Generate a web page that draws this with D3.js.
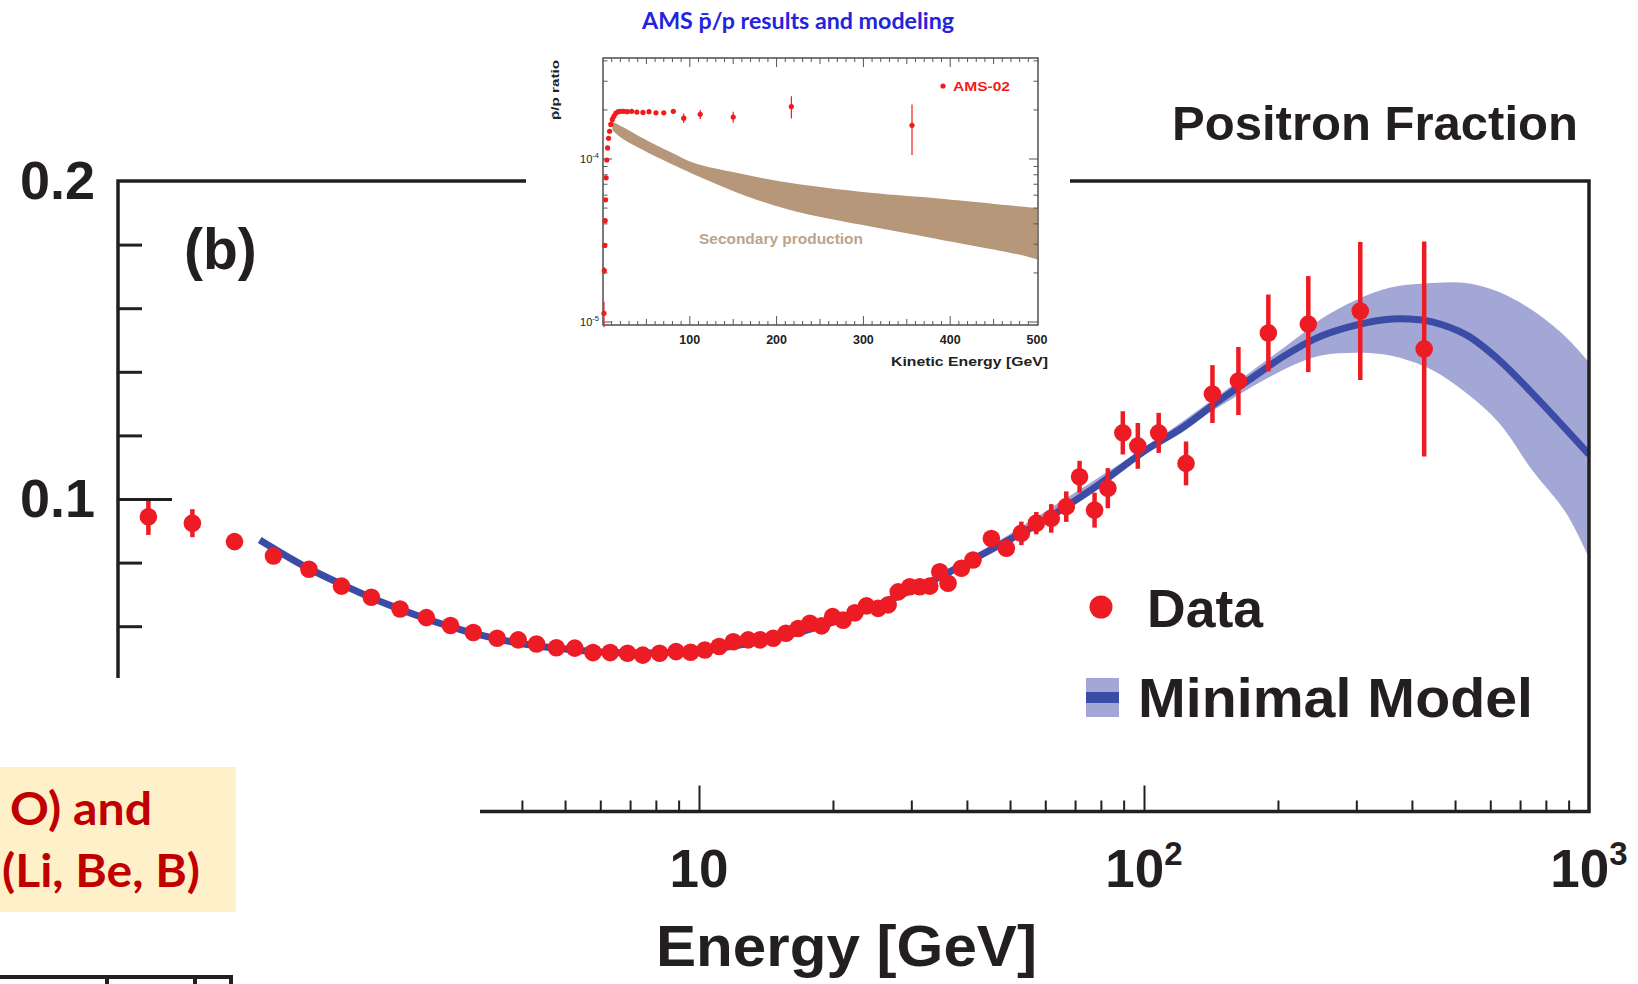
<!DOCTYPE html>
<html>
<head>
<meta charset="utf-8">
<script src="https://cdn.jsdelivr.net/npm/d3@7/dist/d3.min.js"></script>
<style>
	html, body { margin: 0; padding: 0; background: #fff; }
	svg { display: block; }
	.helv { font-family: "Liberation Sans", Arial, Helvetica, sans-serif; }
	.cal { font-family: Lato, "Open Sans", sans-serif; }
</style>
</head>
<body>
<svg id="viz" width="1638" height="984"></svg>
<script>

var positronEnergy = [
	0.579, 0.727, 0.904, 1.106, 1.329, 1.573, 1.835, 2.129, 2.440, 2.764,
	3.111, 3.518, 3.923, 4.314, 4.780, 5.258, 5.778, 6.317, 6.909, 7.474,
	8.155, 8.880, 9.575, 10.31, 11.10, 11.94, 12.90, 13.71, 14.68, 15.68,
	16.71, 17.75, 18.86, 19.96, 21.08, 22.40, 23.79, 25.26, 26.61, 28.03,
	29.76, 31.34, 33.00, 34.75, 36.28, 38.88, 41.28, 45.40, 49.06, 53.02,
	57.28, 61.89, 66.88, 71.65, 77.43, 82.94, 89.62, 96.85, 107.9, 124.3,
	142.5, 163.0, 190.3, 234.0, 306.2, 426.2
];
var positronFraction = [
	0.0944, 0.0924, 0.0866, 0.0821, 0.0779, 0.0726, 0.0691, 0.0654, 0.0627, 0.0602,
	0.0580, 0.0562, 0.0557, 0.0544, 0.0532, 0.0531, 0.0517, 0.0517, 0.0515, 0.0509,
	0.0515, 0.0520, 0.0518, 0.0525, 0.0536, 0.0551, 0.0557, 0.0557, 0.0562, 0.0578,
	0.0593, 0.0609, 0.0601, 0.0630, 0.0619, 0.0642, 0.0664, 0.0656, 0.0667, 0.0708,
	0.0724, 0.0724, 0.0726, 0.0771, 0.0735, 0.0782, 0.0808, 0.0876, 0.0845, 0.0892,
	0.0924, 0.0939, 0.0976, 0.1070, 0.0965, 0.1034, 0.1208, 0.1167, 0.1208, 0.1112,
	0.1330, 0.1371, 0.1522, 0.1550, 0.1591, 0.1472
];
var positronError = [
	0.0057, 0.0044, 0.001, 0.001, 0.001, 0.001, 0.001, 0.001, 0.001, 0.001,
	0.001, 0.001, 0.001, 0.001, 0.001, 0.001, 0.001, 0.001, 0.001, 0.001,
	0.001, 0.001, 0.001, 0.001, 0.001, 0.001, 0.001, 0.001, 0.001, 0.001,
	0.001, 0.001, 0.001, 0.001, 0.001, 0.001, 0.001, 0.001, 0.001, 0.001,
	0.001, 0.001, 0.001, 0.001, 0.001, 0.0012, 0.0015, 0.002, 0.0022, 0.0037,
	0.0035, 0.0045, 0.0048, 0.0050, 0.0055, 0.0063, 0.0068, 0.0072, 0.0063, 0.0069,
	0.0091, 0.0107, 0.0121, 0.0151, 0.0217, 0.0338
];

// Minimal model: central line and its band.
var modelEnergy = [
	1.03, 1.3, 1.6, 2, 2.5, 3, 3.5, 4, 5, 6, 7, 8, 9, 10, 12, 14, 17, 20, 25, 30,
	35, 40, 50, 60, 70, 80, 100, 122, 145, 172, 205, 244, 289, 343, 395, 444,
	530, 628, 745, 965, 1000
];
var modelFraction = [
	0.0871, 0.0788, 0.0727, 0.0668, 0.0618, 0.0584, 0.0561, 0.0545, 0.0528, 0.0519,
	0.0516, 0.0516, 0.0519, 0.0524, 0.0538, 0.0555, 0.0583, 0.0613, 0.0664, 0.0713,
	0.0757, 0.0800, 0.0873, 0.0935, 0.0995, 0.1050, 0.1150, 0.1224, 0.1302, 0.1374,
	0.1447, 0.1506, 0.1541, 0.1563, 0.1566, 0.1557, 0.1516, 0.1437, 0.1333, 0.1164,
	0.1140
];
// Below ~40 GeV the band is hidden under the line.
var bandEnergy = [40, 100, 150, 190, 225, 252, 300, 356, 444, 530, 628, 745, 888, 1000];
var bandHigh = [0.0806, 0.1160, 0.1334, 0.1440, 0.1516, 0.1569, 0.1626, 0.1664, 0.1679, 0.1679, 0.1651, 0.1594, 0.1509, 0.1430];
var bandLow = [0.0794, 0.1140, 0.1296, 0.1381, 0.1431, 0.1452, 0.1460, 0.1452, 0.1406, 0.1333, 0.1239, 0.1091, 0.0956, 0.0815];

// Main axes ticks.
var xMajorTicks = [10, 100, 1000];
var xMajorLabels = [ [ '10', '' ], [ '10', '2' ], [ '10', '3' ] ];
var xMinorTicks = [4, 5, 6, 7, 8, 9, 20, 30, 40, 50, 60, 70, 80, 90, 200, 300, 400, 500, 600, 700, 800, 900];
var yMinorTicks = [0.06, 0.08, 0.12, 0.14, 0.16, 0.18];
var yLabelTicks = [0.1, 0.2];
var yLabels = ['0.1', '0.2'];

// Inset: AMS antiproton to proton ratio.
var antiEnergy = [
	1.1, 1.5, 2.0, 2.5, 3.0, 3.6, 4.4, 5.3, 6.4, 7.6, 9.0, 10.7, 12.6, 14.8, 17.5,
	20.5, 24, 28, 33, 39, 46, 53, 61, 70, 81, 93, 112, 150, 217, 356
];
var antiRatio = [
	1.13e-5, 2.07e-5, 2.95e-5, 4.19e-5, 5.62e-5, 7.66e-5, 9.86e-5, 1.17e-4, 1.34e-4, 1.48e-4,
	1.63e-4, 1.75e-4, 1.83e-4, 1.91e-4, 1.95e-4, 1.96e-4, 1.96e-4, 1.95e-4, 1.96e-4, 1.94e-4,
	1.93e-4, 1.95e-4, 1.92e-4, 1.92e-4, 1.96e-4, 1.78e-4, 1.88e-4, 1.81e-4, 2.10e-4, 1.61e-4
];
var antiError = [
	0.2e-5, 0.1e-5, 0.1e-5, 0.1e-5, 0.1e-5, 0.1e-5, 0.1e-5, 0.1e-5, 0.1e-5, 0.1e-5,
	0.1e-5, 0.1e-5, 0.1e-5, 0.1e-5, 0.1e-5, 0.1e-5, 0.1e-5, 0.1e-5, 0.1e-5, 0.1e-5,
	0.1e-5, 0.1e-5, 0.1e-5, 0.2e-5, 0.3e-5, 0.12e-4, 0.12e-4, 0.14e-4, 0.33e-4, 0.55e-4
];
var secUpperEnergy = [10.4, 25, 46, 57, 80, 105, 155, 215, 308, 389, 500];
var secUpperRatio = [1.70e-4, 1.55e-4, 1.34e-4, 1.25e-4, 1.09e-4, 9.45e-5, 8.2e-5, 7.14e-5, 6.2e-5, 5.71e-5, 5.0e-5];
var secLowerEnergy = [11, 20, 65, 119, 167, 227, 308, 389, 478, 500];
var secLowerRatio = [1.50e-4, 1.36e-4, 1.01e-4, 7.45e-5, 5.86e-5, 4.69e-5, 3.85e-5, 3.2e-5, 2.6e-5, 2.42e-5];
var insetXTicks = [100, 200, 300, 400, 500];
var insetYTicks = [1e-5, 1e-4];
var insetYLabels = [ [ '10', '-5' ], [ '10', '-4' ] ];
var insetYMinor = [2e-5, 3e-5, 4e-5, 5e-5, 6e-5, 7e-5, 8e-5, 9e-5, 2e-4, 3e-4, 4e-4];


window.positronViz = {

	/**
	 * @private
	 * Frame of the main plot, in pixels.
	 */
	_frame: {
		left: 118,
		right: 1589,
		top: 181,
		bottom: 811.5,
		axisCut: 678,
		bottomStart: 480
	},

	_colors: {
		red: '#ed1c24',
		line: '#3a4ca6',
		band: '#a3a7d6',
		ink: '#231f20'
	},

	_bindSvg: function () {
		this._svg = d3.select( '#viz' );
		this._x = d3.scaleLog().domain( [ 10, 1000 ] ).range( [ 699, this._frame.right ] );
		this._y = d3.scaleLinear().domain( [ 0, 0.2 ] ).range( [ 817, this._frame.top ] );
	},

	/**
	 * @private
	 * Model band and central line.
	 */
	_drawModel: function () {
		var x = this._x, y = this._y;

		this._svg.append( 'clipPath' ).attr( 'id', 'plot-clip' )
			.append( 'rect' )
			.attr( 'x', this._frame.left ).attr( 'y', this._frame.top )
			.attr( 'width', this._frame.right - this._frame.left )
			.attr( 'height', this._frame.bottom - this._frame.top );

		var g = this._svg.append( 'g' ).attr( 'clip-path', 'url(#plot-clip)' );

		var band = d3.area()
			.x( function ( d, i ) { return x( bandEnergy[i] ); } )
			.y0( function ( d, i ) { return y( bandLow[i] ); } )
			.y1( function ( d, i ) { return y( bandHigh[i] ); } )
			.curve( d3.curveCatmullRom );

		g.append( 'path' )
			.attr( 'd', band( bandEnergy ) )
			.attr( 'fill', this._colors.band );

		var line = d3.line()
			.x( function ( d, i ) { return x( modelEnergy[i] ); } )
			.y( function ( d, i ) { return y( modelFraction[i] ); } )
			.curve( d3.curveCatmullRom );

		g.append( 'path' )
			.attr( 'd', line( modelEnergy ) )
			.attr( 'fill', 'none' )
			.attr( 'stroke', this._colors.line )
			.attr( 'stroke-width', 7 );
	},

	_drawData: function () {
		var x = this._x, y = this._y;
		var g = this._svg.append( 'g' );

		g.selectAll( 'line.err' )
			.data( positronEnergy )
			.enter()
			.append( 'line' )
			.attr( 'x1', function ( d ) { return x( d ); } )
			.attr( 'x2', function ( d ) { return x( d ); } )
			.attr( 'y1', function ( d, i ) { return y( positronFraction[i] + positronError[i] ); } )
			.attr( 'y2', function ( d, i ) { return y( positronFraction[i] - positronError[i] ); } )
			.attr( 'stroke', this._colors.red )
			.attr( 'stroke-width', 4.5 );

		g.selectAll( 'circle' )
			.data( positronEnergy )
			.enter()
			.append( 'circle' )
			.attr( 'cx', function ( d ) { return x( d ); } )
			.attr( 'cy', function ( d, i ) { return y( positronFraction[i] ); } )
			.attr( 'r', 8.8 )
			.attr( 'fill', this._colors.red );
	},

	/**
	 * @private
	 * Frame lines, ticks and labels of the main plot.
	 */
	_drawAxes: function () {
		var f = this._frame, x = this._x, y = this._y, ink = this._colors.ink;
		var svg = this._svg;

		// Frame: left axis is cut off by the slide, bottom axis starts late.
		svg.append( 'path' )
			.attr( 'd', 'M' + f.left + ',' + f.axisCut + 'V' + f.top + 'H' + f.right + 'V' + f.bottom + 'H' + f.bottomStart )
			.attr( 'fill', 'none' )
			.attr( 'stroke', ink )
			.attr( 'stroke-width', 3.5 );

		var minorX = d3.axisBottom( x ).tickValues( xMinorTicks ).tickSize( -11 ).tickFormat( '' );
		var majorX = d3.axisBottom( x ).tickValues( [ 10, 100 ] ).tickSize( -26 ).tickFormat( '' );
		[ minorX, majorX ].forEach( function ( ax ) {
			var a = svg.append( 'g' ).attr( 'transform', 'translate(0,' + f.bottom + ')' ).call( ax );
			a.select( '.domain' ).remove();
			a.selectAll( 'line' ).attr( 'stroke', ink ).attr( 'stroke-width', 2 );
		} );

		var minorY = d3.axisLeft( y ).tickValues( yMinorTicks ).tickSize( -24 ).tickFormat( '' );
		var majorY = d3.axisLeft( y ).tickValues( [ 0.1 ] ).tickSize( -54 ).tickFormat( '' );
		[ minorY, majorY ].forEach( function ( ax ) {
			var a = svg.append( 'g' ).attr( 'transform', 'translate(' + f.left + ',0)' ).call( ax );
			a.select( '.domain' ).remove();
			a.selectAll( 'line' ).attr( 'stroke', ink ).attr( 'stroke-width', 3 );
		} );

		svg.selectAll( 'text.ylab' )
			.data( yLabelTicks )
			.enter()
			.append( 'text' )
			.attr( 'class', 'helv' )
			.attr( 'x', 95 )
			.attr( 'y', function ( d ) { return y( d ) + 18; } )
			.attr( 'text-anchor', 'end' )
			.attr( 'font-size', 54 )
			.attr( 'font-weight', 'bold' )
			.attr( 'fill', ink )
			.text( function ( d, i ) { return yLabels[i]; } );

		var xl = svg.selectAll( 'text.xlab' )
			.data( xMajorTicks )
			.enter()
			.append( 'text' )
			.attr( 'class', 'helv' )
			.attr( 'x', function ( d ) { return x( d ); } )
			.attr( 'y', 887 )
			.attr( 'text-anchor', 'middle' )
			.attr( 'font-size', 53 )
			.attr( 'font-weight', 'bold' )
			.attr( 'fill', ink );
		xl.append( 'tspan' ).text( function ( d, i ) { return xMajorLabels[i][0]; } );
		xl.append( 'tspan' )
			.attr( 'dy', -22 )
			.attr( 'font-size', 33 )
			.text( function ( d, i ) { return xMajorLabels[i][1]; } );

		svg.append( 'text' )
			.attr( 'class', 'helv' )
			.attr( 'x', 656 ).attr( 'y', 966 )
			.attr( 'font-size', 58 ).attr( 'font-weight', 'bold' )
			.attr( 'textLength', 381 ).attr( 'lengthAdjust', 'spacingAndGlyphs' )
			.attr( 'fill', ink )
			.text( 'Energy [GeV]' );

		svg.append( 'text' )
			.attr( 'class', 'helv' )
			.attr( 'x', 184 ).attr( 'y', 269 )
			.attr( 'font-size', 57 ).attr( 'font-weight', 'bold' )
			.attr( 'fill', ink )
			.text( '(b)' );

		svg.append( 'text' )
			.attr( 'class', 'helv' )
			.attr( 'x', 1172 ).attr( 'y', 140 )
			.attr( 'font-size', 49 ).attr( 'font-weight', 'bold' )
			.attr( 'textLength', 406 ).attr( 'lengthAdjust', 'spacingAndGlyphs' )
			.attr( 'fill', ink )
			.text( 'Positron Fraction' );
	},

	_drawLegend: function () {
		var svg = this._svg, ink = this._colors.ink;

		svg.append( 'circle' )
			.attr( 'cx', 1101 ).attr( 'cy', 607 ).attr( 'r', 11.5 )
			.attr( 'fill', this._colors.red );
		svg.append( 'text' )
			.attr( 'class', 'helv' )
			.attr( 'x', 1147 ).attr( 'y', 627 )
			.attr( 'font-size', 54 ).attr( 'font-weight', 'bold' )
			.attr( 'textLength', 116 ).attr( 'lengthAdjust', 'spacingAndGlyphs' )
			.attr( 'fill', ink )
			.text( 'Data' );

		svg.append( 'rect' )
			.attr( 'x', 1086 ).attr( 'y', 678 ).attr( 'width', 33 ).attr( 'height', 39 )
			.attr( 'fill', this._colors.band );
		svg.append( 'rect' )
			.attr( 'x', 1086 ).attr( 'y', 692 ).attr( 'width', 33 ).attr( 'height', 11 )
			.attr( 'fill', this._colors.line );
		svg.append( 'text' )
			.attr( 'class', 'helv' )
			.attr( 'x', 1138 ).attr( 'y', 717 )
			.attr( 'font-size', 56 ).attr( 'font-weight', 'bold' )
			.attr( 'textLength', 395 ).attr( 'lengthAdjust', 'spacingAndGlyphs' )
			.attr( 'fill', ink )
			.text( 'Minimal Model' );
	},

	/**
	 * @private
	 * Pieces of the slide that sit round the chart.
	 */
	_drawSlideBits: function () {
		var svg = this._svg;

		svg.append( 'rect' )
			.attr( 'x', 0 ).attr( 'y', 767 ).attr( 'width', 236 ).attr( 'height', 145 )
			.attr( 'fill', '#fef0c8' );
		svg.append( 'text' )
			.attr( 'class', 'cal' )
			.attr( 'x', 10 ).attr( 'y', 825 )
			.attr( 'font-size', 46 ).attr( 'font-weight', 'bold' )
			.attr( 'textLength', 142 ).attr( 'lengthAdjust', 'spacingAndGlyphs' )
			.attr( 'fill', '#c00000' )
			.text( 'O) and' );
		svg.append( 'text' )
			.attr( 'class', 'cal' )
			.attr( 'x', 2 ).attr( 'y', 887 )
			.attr( 'font-size', 46 ).attr( 'font-weight', 'bold' )
			.attr( 'textLength', 198 ).attr( 'lengthAdjust', 'spacingAndGlyphs' )
			.attr( 'fill', '#c00000' )
			.text( '(Li, Be, B)' );

		svg.append( 'path' )
			.attr( 'd', 'M0,977H231V984M107,977V984M195,977V984' )
			.attr( 'fill', 'none' )
			.attr( 'stroke', this._colors.ink )
			.attr( 'stroke-width', 4 );
	},

	/**
	 * @private
	 * The pasted AMS antiproton figure on top of the chart.
	 */
	_drawInset: function () {
		var svg = this._svg;
		var box = { left: 603, right: 1038, top: 58, bottom: 325 };
		var ix = d3.scaleLinear().domain( [ 0, 500 ] ).range( [ 603, 1037 ] );
		var iy = d3.scaleLog().domain( [ 1e-5, 1e-4 ] ).range( [ 322, 159 ] );
		var red = '#f21a1a', ink = '#333';

		svg.append( 'rect' )
			.attr( 'x', 526 ).attr( 'y', 0 ).attr( 'width', 544 ).attr( 'height', 372 )
			.attr( 'fill', '#fff' );

		svg.append( 'text' )
			.attr( 'class', 'cal' )
			.attr( 'x', 642 ).attr( 'y', 29 )
			.attr( 'font-size', 22 ).attr( 'font-weight', 'bold' )
			.attr( 'textLength', 312 ).attr( 'lengthAdjust', 'spacingAndGlyphs' )
			.attr( 'fill', '#2424dc' )
			.text( 'AMS p\u0304/p results and modeling' );

		// Secondary production band.
		var upper = d3.line()
			.x( function ( d, i ) { return ix( secUpperEnergy[i] ); } )
			.y( function ( d, i ) { return iy( secUpperRatio[i] ); } )
			.curve( d3.curveCatmullRom );
		var lower = d3.line()
			.x( function ( d ) { return ix( d[0] ); } )
			.y( function ( d ) { return iy( d[1] ); } )
			.curve( d3.curveCatmullRom );
		var lowerPts = secLowerEnergy.map( function ( e, i ) { return [ e, secLowerRatio[i] ]; } ).reverse();
		svg.append( 'path' )
			.attr( 'd', upper( secUpperEnergy ) + 'L' + lower( lowerPts ).slice( 1 ) + 'Z' )
			.attr( 'fill', '#b6977a' );

		svg.append( 'text' )
			.attr( 'class', 'helv' )
			.attr( 'x', 781 ).attr( 'y', 244 )
			.attr( 'text-anchor', 'middle' )
			.attr( 'font-size', 14 ).attr( 'font-weight', 'bold' )
			.attr( 'textLength', 164 ).attr( 'lengthAdjust', 'spacingAndGlyphs' )
			.attr( 'fill', '#bba48e' )
			.text( 'Secondary production' );

		// Frame and ticks on four sides.
		svg.append( 'rect' )
			.attr( 'x', box.left ).attr( 'y', box.top )
			.attr( 'width', box.right - box.left ).attr( 'height', box.bottom - box.top )
			.attr( 'fill', 'none' ).attr( 'stroke', ink ).attr( 'stroke-width', 1.3 );

		var ticks = svg.append( 'g' ).attr( 'stroke', '#555' ).attr( 'stroke-width', 1 );
		d3.range( 10, 500, 10 ).forEach( function ( v ) {
			var len = v % 100 === 0 ? 9 : ( v % 50 === 0 ? 6 : 4 );
			ticks.append( 'line' ).attr( 'x1', ix( v ) ).attr( 'x2', ix( v ) )
				.attr( 'y1', box.bottom ).attr( 'y2', box.bottom - len );
			ticks.append( 'line' ).attr( 'x1', ix( v ) ).attr( 'x2', ix( v ) )
				.attr( 'y1', box.top ).attr( 'y2', box.top + len );
		} );
		insetYTicks.concat( insetYMinor ).forEach( function ( v ) {
			var len = insetYTicks.indexOf( v ) > -1 ? 9 : 4.5;
			ticks.append( 'line' ).attr( 'x1', box.left ).attr( 'x2', box.left + len )
				.attr( 'y1', iy( v ) ).attr( 'y2', iy( v ) );
			ticks.append( 'line' ).attr( 'x1', box.right ).attr( 'x2', box.right - len )
				.attr( 'y1', iy( v ) ).attr( 'y2', iy( v ) );
		} );

		svg.selectAll( 'text.ixlab' )
			.data( insetXTicks )
			.enter()
			.append( 'text' )
			.attr( 'class', 'helv' )
			.attr( 'x', function ( d ) { return ix( d ); } )
			.attr( 'y', 344 )
			.attr( 'text-anchor', 'middle' )
			.attr( 'font-size', 12.5 ).attr( 'font-weight', 'bold' )
			.attr( 'fill', '#222' )
			.text( function ( d ) { return d; } );

		var yl = svg.selectAll( 'text.iylab' )
			.data( insetYTicks )
			.enter()
			.append( 'text' )
			.attr( 'class', 'helv' )
			.attr( 'x', 599 )
			.attr( 'y', function ( d ) { return iy( d ) + 4; } )
			.attr( 'text-anchor', 'end' )
			.attr( 'font-size', 11 )
			.attr( 'fill', '#222' );
		yl.append( 'tspan' ).text( function ( d, i ) { return insetYLabels[i][0]; } );
		yl.append( 'tspan' ).attr( 'dy', -5 ).attr( 'font-size', 7.5 )
			.text( function ( d, i ) { return insetYLabels[i][1]; } );

		svg.append( 'text' )
			.attr( 'class', 'helv' )
			.attr( 'x', 1048 ).attr( 'y', 366 )
			.attr( 'text-anchor', 'end' )
			.attr( 'font-size', 13 ).attr( 'font-weight', 'bold' )
			.attr( 'textLength', 157 ).attr( 'lengthAdjust', 'spacingAndGlyphs' )
			.attr( 'fill', '#222' )
			.text( 'Kinetic Energy [GeV]' );

		svg.append( 'text' )
			.attr( 'class', 'helv' )
			.attr( 'transform', 'translate(559,60) rotate(-90)' )
			.attr( 'text-anchor', 'end' )
			.attr( 'font-size', 11.5 ).attr( 'font-weight', 'bold' )
			.attr( 'textLength', 60 ).attr( 'lengthAdjust', 'spacingAndGlyphs' )
			.attr( 'fill', '#222' )
			.text( 'p\u0304/p ratio' );

		// AMS-02 points.
		var pts = svg.append( 'g' );
		pts.selectAll( 'line' )
			.data( antiEnergy )
			.enter()
			.append( 'line' )
			.attr( 'x1', function ( d ) { return ix( d ); } )
			.attr( 'x2', function ( d ) { return ix( d ); } )
			.attr( 'y1', function ( d, i ) { return iy( antiRatio[i] + antiError[i] ); } )
			.attr( 'y2', function ( d, i ) { return iy( antiRatio[i] - antiError[i] ); } )
			.attr( 'stroke', red ).attr( 'stroke-width', 1.2 );
		pts.selectAll( 'circle' )
			.data( antiEnergy )
			.enter()
			.append( 'circle' )
			.attr( 'cx', function ( d ) { return ix( d ); } )
			.attr( 'cy', function ( d, i ) { return iy( antiRatio[i] ); } )
			.attr( 'r', 2.6 )
			.attr( 'fill', red );

		svg.append( 'circle' )
			.attr( 'cx', 943 ).attr( 'cy', 86 ).attr( 'r', 2.6 ).attr( 'fill', red );
		svg.append( 'text' )
			.attr( 'class', 'helv' )
			.attr( 'x', 953 ).attr( 'y', 90.5 )
			.attr( 'font-size', 13 ).attr( 'font-weight', 'bold' )
			.attr( 'textLength', 57 ).attr( 'lengthAdjust', 'spacingAndGlyphs' )
			.attr( 'fill', red )
			.text( 'AMS-02' );
	},

	on: function () {
		this._bindSvg();
		this._drawModel();
		this._drawData();
		this._drawAxes();
		this._drawLegend();
		this._drawSlideBits();
		this._drawInset();
	}

};

window.positronViz.on();
</script>
</body>
</html>
